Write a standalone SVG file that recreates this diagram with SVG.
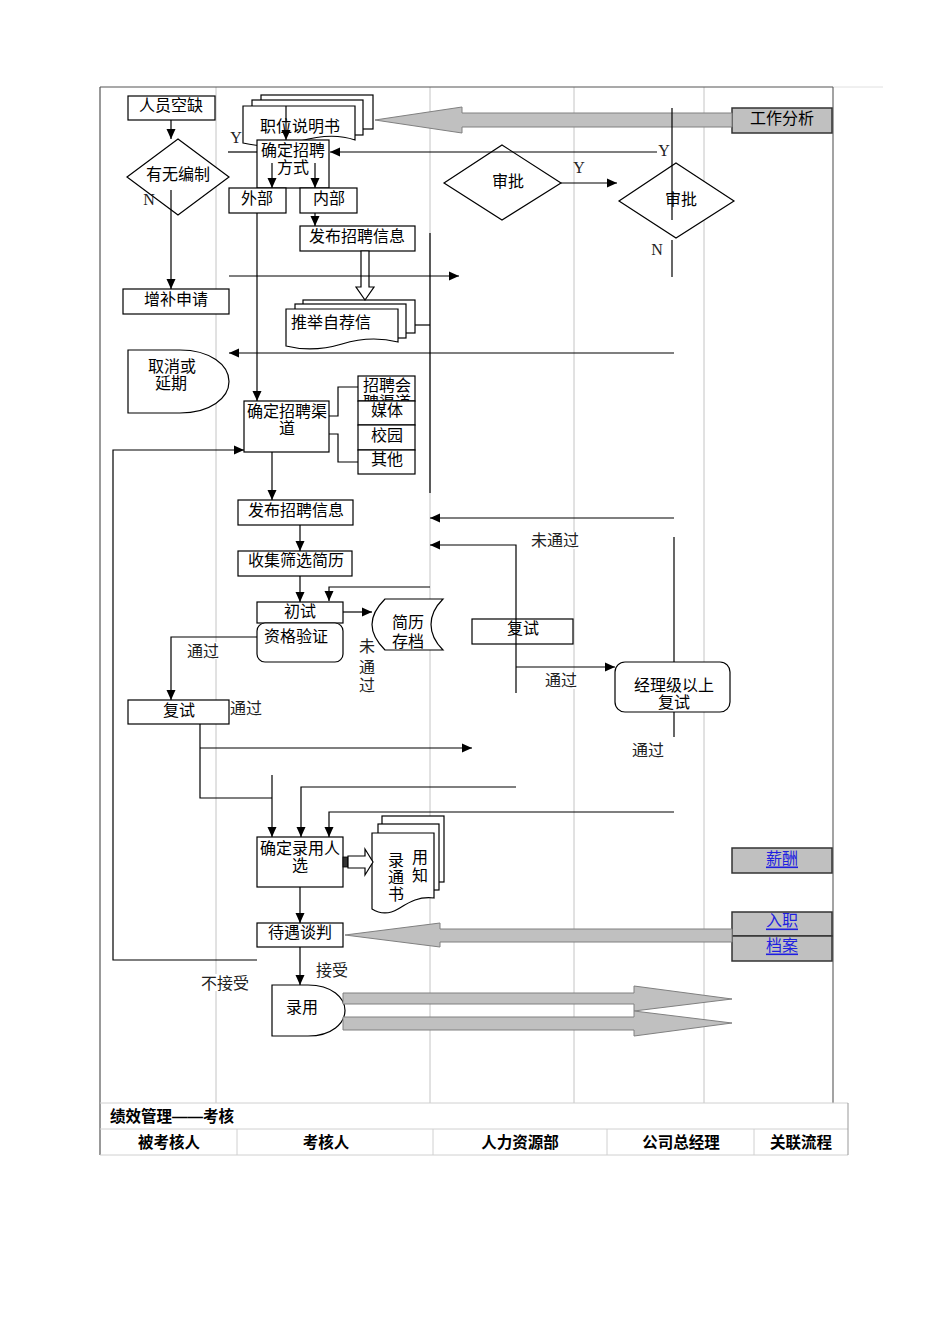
<svg xmlns="http://www.w3.org/2000/svg" width="950" height="1344" viewBox="0 0 950 1344">
<defs>
<style>
.n{fill:#fff;stroke:#000;stroke-width:1.2}
.c{fill:none;stroke:#000;stroke-width:1.2}
.a{marker-end:url(#ah)}
.lane{stroke:#c4c4c4;stroke-width:1}
.big{fill:#c0c0c0;stroke:#808080;stroke-width:1}
.ref{fill:#c0c0c0;stroke:#333;stroke-width:1.5}
.bg{fill:#fff;stroke:none}
text{font-family:"Liberation Serif","Noto Sans CJK SC",serif;font-size:16px;text-anchor:middle;dominant-baseline:central;fill:#000}
.lbl{fill:#222}
.lnk{fill:#1f1fe0;text-decoration:underline}
.tb{font-family:"Liberation Sans","Noto Sans CJK SC",sans-serif;font-weight:bold;font-size:15.5px}
</style>
<marker id="ah" viewBox="0 0 10 10" refX="10" refY="5" markerWidth="10" markerHeight="10" markerUnits="userSpaceOnUse" orient="auto">
<path d="M0,0.5 L10,5 L0,9.5 z" fill="#000"/>
</marker>
<clipPath id="clipFair"><rect x="358" y="376" width="57" height="25"/></clipPath>
</defs>
<rect width="950" height="1344" fill="#fff"/>

<!-- swimlane frame -->
<g id="frame">
<line class="lane" x1="216" y1="87" x2="216" y2="1103"/>
<line class="lane" x1="430" y1="87" x2="430" y2="1103"/>
<line class="lane" x1="574" y1="87" x2="574" y2="1103"/>
<line class="lane" x1="704" y1="87" x2="704" y2="1103"/>
<line x1="833" y1="87" x2="883" y2="87" stroke="#e0e0e0" stroke-width="1"/>
<line x1="100" y1="87" x2="833" y2="87" stroke="#555" stroke-width="1.2"/>
<line x1="100" y1="87" x2="100" y2="1155" stroke="#555" stroke-width="1.2"/>
<line x1="833" y1="87" x2="833" y2="1103" stroke="#666" stroke-width="1.2"/>
</g>

<!-- footer table -->
<g id="table">
<line x1="100" y1="1103" x2="848" y2="1103" stroke="#d0d0d0"/>
<line x1="100" y1="1129" x2="848" y2="1129" stroke="#d0d0d0"/>
<line x1="100" y1="1155" x2="848" y2="1155" stroke="#d0d0d0"/>
<line x1="848" y1="1103" x2="848" y2="1155" stroke="#999"/>
<line x1="237" y1="1129" x2="237" y2="1155" stroke="#d0d0d0"/>
<line x1="433" y1="1129" x2="433" y2="1155" stroke="#d0d0d0"/>
<line x1="607" y1="1129" x2="607" y2="1155" stroke="#d0d0d0"/>
<line x1="754" y1="1129" x2="754" y2="1155" stroke="#d0d0d0"/>
<text class="tb" x="110" y="1116" style="text-anchor:start">绩效管理——考核</text>
<text class="tb" x="169" y="1142">被考核人</text>
<text class="tb" x="326" y="1142">考核人</text>
<text class="tb" x="520" y="1142">人力资源部</text>
<text class="tb" x="681" y="1142">公司总经理</text>
<text class="tb" x="801" y="1142">关联流程</text>
</g>

<!-- nodes -->
<g id="n-vacancy"><rect class="n" x="128" y="96" width="87" height="24"/><text x="171" y="105">人员空缺</text></g>
<g id="n-quota"><polygon class="n" points="178,139 229,177 178,215 127,177"/><text x="178" y="174">有无编制</text></g>
<g id="n-request"><rect class="n" x="123" y="289" width="106" height="25"/><text x="176" y="299">增补申请</text></g>
<g id="n-cancel"><path class="n" d="M128,350 H180 C210,350 229,365 229,381.5 C229,398 210,413 180,413 H128 Z"/><text x="172" y="366">取消或</text><text x="171" y="383">延期</text></g>

<g id="n-jobdesc">
<rect class="n" x="261" y="95" width="112" height="34"/>
<rect class="n" x="252" y="100" width="111" height="35"/>
<path class="n" d="M243,106 H355 V140 C338,134 318,136 300,141 C280,147 260,147 243,143 Z"/>
<text x="300" y="126">职位说明书</text>
</g>
<g id="n-method"><rect class="n" x="257" y="140" width="72" height="48"/><text x="293" y="150">确定招聘</text><text x="293" y="167">方式</text></g>
<g id="n-external"><rect class="n" x="229" y="188" width="57" height="25"/><text x="257" y="198">外部</text></g>
<g id="n-internal"><rect class="n" x="300" y="188" width="57" height="25"/><text x="329" y="198">内部</text></g>
<g id="n-post1"><rect class="n" x="300" y="226" width="115" height="25"/><text x="357" y="236">发布招聘信息</text></g>
<g id="n-referral">
<rect class="n" x="303" y="300" width="112" height="33"/>
<rect class="n" x="295" y="304" width="111" height="34"/>
<path class="n" d="M286,309 H398 V342 C378,337 358,339 342,344 C322,350 302,350 286,346 Z"/>
<text x="331" y="322">推举自荐信</text>
</g>
<g id="n-channel"><rect class="n" x="244" y="401" width="85" height="51"/><text x="287" y="411">确定招聘渠</text><text x="287" y="428">道</text></g>
<g id="n-fair"><rect class="n" x="358" y="376" width="57" height="25"/><g clip-path="url(#clipFair)"><text x="387" y="385">招聘会</text><text x="387" y="402">聘渠道</text></g></g>
<g id="n-media"><rect class="n" x="358" y="401" width="57" height="24"/><text x="387" y="410">媒体</text></g>
<g id="n-campus"><rect class="n" x="358" y="425" width="57" height="25"/><text x="387" y="435">校园</text></g>
<g id="n-other"><rect class="n" x="358" y="450" width="57" height="24"/><text x="387" y="459">其他</text></g>
<g id="n-post2"><rect class="n" x="238" y="500" width="115" height="25"/><text x="296" y="510">发布招聘信息</text></g>
<g id="n-screen"><rect class="n" x="238" y="551" width="114" height="25"/><text x="296" y="560">收集筛选简历</text></g>
<g id="n-first"><rect class="n" x="257" y="602" width="86" height="21"/><text x="300" y="611">初试</text></g>
<g id="n-verify"><rect class="n" x="257" y="623" width="86" height="39" rx="8"/><text x="296" y="636">资格验证</text></g>
<g id="n-archive"><path class="n" d="M385,599 H443 C434,608 431,617 431,624.5 C431,632 434,641 443,650 H385 C376,641 372,632 372,624.5 C372,617 376,608 385,599 Z"/><text x="408" y="622">简历</text><text x="408" y="641">存档</text></g>

<g id="n-approve1"><polygon class="n" points="502,145 561,183 502,220 444,183"/><text x="508" y="181">审批</text></g>
<g id="n-approve2"><polygon class="n" points="676,163 734,201 676,238 619,201"/><text x="681" y="199">审批</text></g>
<g id="n-jobanalysis"><rect class="ref" x="732" y="108" width="100" height="25"/><text x="782" y="118">工作分析</text></g>

<g id="n-second-hr"><rect class="n" x="472" y="619" width="101" height="25"/><text x="523" y="628">复试</text></g>
<g id="n-manager"><rect class="n" x="615" y="662" width="115" height="50" rx="10"/><text x="674" y="685">经理级以上</text><text x="674" y="702">复试</text></g>
<g id="n-second"><rect class="n" x="128" y="700" width="101" height="24"/><text x="179" y="710">复试</text></g>
<g id="n-decide"><rect class="n" x="257" y="837" width="86" height="50"/><text x="300" y="848">确定录用人</text><text x="300" y="865">选</text></g>
<g id="n-offer">
<rect class="n" x="382" y="816" width="62" height="66"/>
<rect class="n" x="378" y="824" width="61" height="66"/>
<path class="n" d="M372,833 H434 V898 C418,896 408,903 398,909 C388,915 380,914 372,909 Z"/>
<text x="396" y="860">录</text><text x="396" y="877">通</text><text x="396" y="894">书</text>
<text x="420" y="857">用</text><text x="420" y="875">知</text>
</g>
<g id="n-negotiate"><rect class="n" x="257" y="923" width="86" height="24"/><text x="300" y="932">待遇谈判</text></g>
<g id="n-hire"><path class="n" d="M272,985 H308 C332,985 345,998 345,1010.5 C345,1023 332,1036 308,1036 H272 Z"/><text x="302" y="1007">录用</text></g>
<g id="n-salary"><rect class="ref" x="732" y="848" width="100" height="25"/><text class="lnk" x="782" y="858">薪酬</text></g>
<g id="n-onboard"><rect class="ref" x="732" y="912" width="100" height="24"/><text class="lnk" x="782" y="920">入职</text></g>
<g id="n-file"><rect class="ref" x="732" y="936" width="100" height="25"/><text class="lnk" x="782" y="945">档案</text></g>

<!-- connectors -->
<g id="connectors">
<polygon class="big" points="732,113 462,113 462,107 375,120 462,133 462,127 732,127"/>
<polygon class="big" points="732,929 440,929 440,923 345,935 440,947 440,942 732,942"/>
<polygon class="big" points="343,993 634,993 634,986 732,999 634,1011 634,1004 343,1004"/>
<polygon class="big" points="343,1017 634,1017 634,1011 732,1023 634,1036 634,1030 343,1030"/>

<line class="c a" x1="171" y1="120" x2="171" y2="139"/>
<line class="c a" x1="171" y1="190" x2="171" y2="289"/>
<line class="c a" x1="286" y1="106" x2="286" y2="140"/>
<line class="c" x1="228" y1="152" x2="257" y2="152"/>
<line class="c a" x1="657" y1="152" x2="330" y2="152"/>
<line class="c a" x1="272" y1="163" x2="272" y2="188"/>
<line class="c a" x1="315" y1="163" x2="315" y2="188"/>
<line class="c a" x1="315" y1="213" x2="315" y2="226"/>
<polygon class="n" points="361,251 369,251 369,287 374,287 365,300 356,287 361,287"/>
<line class="c a" x1="257" y1="213" x2="257" y2="401"/>
<line class="c a" x1="229" y1="276" x2="459" y2="276"/>
<line class="c" x1="430" y1="233" x2="430" y2="493"/>
<line class="c" x1="415" y1="325" x2="430" y2="325"/>
<line class="c a" x1="674" y1="353" x2="229" y2="353"/>
<polyline class="c" points="329,416 338,416 338,387 358,387"/>
<polyline class="c" points="329,434 338,434 338,462 358,462"/>
<polyline class="c a" points="257,960 113,960 113,450 244,450"/>
<line class="c a" x1="272" y1="452" x2="272" y2="500"/>
<line class="c a" x1="300" y1="525" x2="300" y2="551"/>
<line class="c a" x1="300" y1="576" x2="300" y2="602"/>
<polyline class="c a" points="430,587 329,587 329,601"/>
<line class="c a" x1="343" y1="612" x2="372" y2="612"/>
<line class="c a" x1="561" y1="183" x2="617" y2="183"/>
<line class="c" x1="672" y1="108" x2="672" y2="220"/>
<line class="c" x1="672" y1="240" x2="672" y2="277"/>
<line class="c a" x1="674" y1="518" x2="430" y2="518"/>
<polyline class="c a" points="516,693 516,545 430,545"/>
<line class="c a" x1="516" y1="667" x2="615" y2="667"/>
<line class="c" x1="674" y1="537" x2="674" y2="662"/>
<line class="c" x1="674" y1="712" x2="674" y2="737"/>
<polyline class="c a" points="257,637 171,637 171,700"/>
<line class="c a" x1="200" y1="748" x2="472" y2="748"/>
<polyline class="c" points="200,724 200,798 272,798"/>
<line class="c a" x1="272" y1="775" x2="272" y2="837"/>
<polyline class="c a" points="516,787 301,787 301,837"/>
<polyline class="c a" points="674,812 329,812 329,837"/>
<rect x="343" y="857" width="5" height="10" fill="#333" stroke="#000" stroke-width="0.8"/>
<polygon class="n" points="348,856 365,856 365,849 373,862 365,875 365,868 348,868"/>
<line class="c a" x1="300" y1="887" x2="300" y2="923"/>
<line class="c a" x1="300" y1="947" x2="300" y2="985"/>

<!-- labels -->
<text class="lbl" x="236" y="137">Y</text>
<text class="lbl" x="149" y="199">N</text>
<text class="lbl" x="579" y="167">Y</text>
<text class="lbl" x="664" y="150">Y</text>
<text class="lbl" x="657" y="249">N</text>
<rect class="bg" x="531" y="532" width="49" height="17"/>
<text class="lbl" x="555" y="540">未通过</text>
<rect class="bg" x="545" y="672" width="33" height="17"/>
<text class="lbl" x="561" y="680">通过</text>
<text class="lbl" x="648" y="750">通过</text>
<text class="lbl" x="367" y="646">未</text>
<text class="lbl" x="367" y="667">通</text>
<text class="lbl" x="367" y="685">过</text>
<rect class="bg" x="186" y="642" width="34" height="17"/>
<text class="lbl" x="203" y="651">通过</text>
<text class="lbl" x="246" y="708">通过</text>
<text class="lbl" x="332" y="970">接受</text>
<rect class="bg" x="199" y="974" width="52" height="17"/>
<text class="lbl" x="225" y="983">不接受</text>
</g>
</svg>
